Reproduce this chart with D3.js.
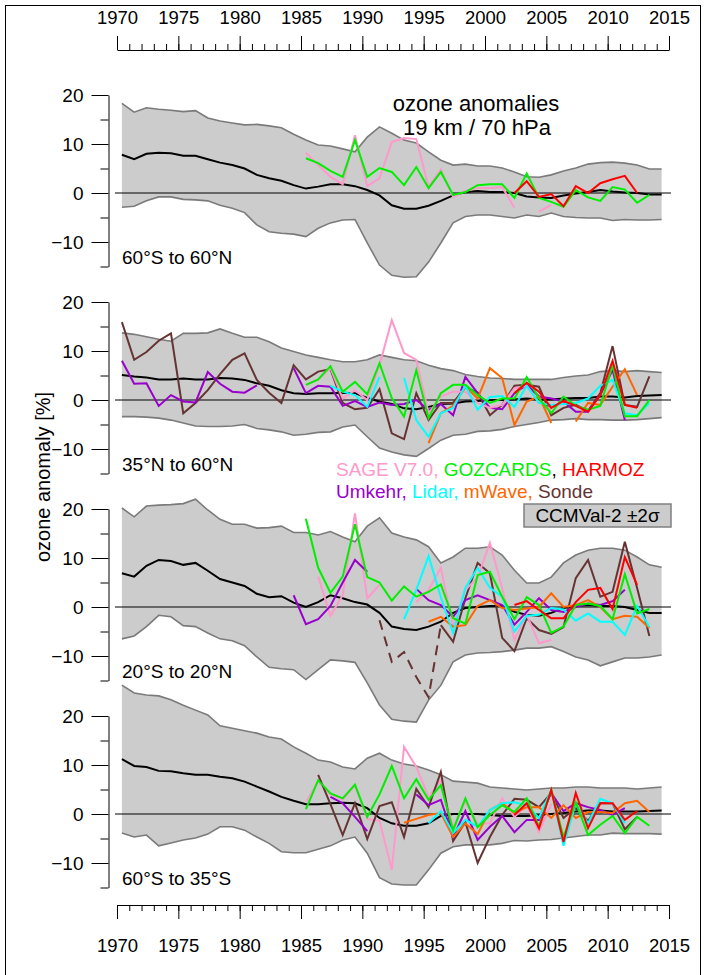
<!DOCTYPE html>
<html>
<head>
<meta charset="utf-8">
<title>ozone anomalies 19 km / 70 hPa</title>
<script src="https://cdn.jsdelivr.net/npm/d3@7"></script>
<style>
  body { margin: 0; background: #fff; }
  svg text { font-family: "Liberation Sans", Arial, Helvetica, sans-serif; fill: #000; }
</style>
</head>
<body>
<script>
// ---- data (% anomaly) ----
var modelYears = d3.range(1970, 2015);

// 60S-60N
var p1Upper = [18.3,16.5,17.4,17.1,16.9,16.6,16.8,15.3,14.7,14.3, 13.9,14.0,13.7,13.3,12.0,10.8,9.8,9.6,9.0,8.4,
               11.4,13.5,12.2,10.8,10.2,8.4,6.7,5.7,5.9,5.5, 5.5,5.1,4.3,3.3,3.2,3.7,4.5,5.1,5.9,6.2, 6.3,6.1,5.7,4.9,4.9];
var p1Lower = [-2.9,-2.7,-1.6,-0.8,-0.8,-1.3,-1.4,-1.6,-2.5,-3.1, -4.0,-6.5,-7.9,-8.2,-8.4,-8.9,-7.2,-6.1,-5.5,-5.4,
               -10.2,-14.7,-16.8,-17.2,-17.1,-14.1,-10.2,-6.1,-4.8,-4.5, -4.5,-4.8,-5.1,-4.5,-4.8,-4.1,-4.8,-5.0,-5.1,-5.1, -5.6,-5.4,-5.5,-5.5,-5.4];
var p1Mean  = [7.8,6.9,8.0,8.2,8.1,7.6,7.6,6.9,6.2,5.7, 5.0,3.7,3.0,2.5,1.6,0.9,1.3,1.8,1.8,1.4,
               0.6,-0.5,-2.5,-3.2,-3.2,-2.6,-1.6,-0.5,0.2,0.4, 0.2,0.2,0,-0.7,-0.9,-1.0,-0.5,-0.1,0.2,0.6, 0.3,0.1,0,-0.3,-0.3];
var p1Sage  = [8.2,5.7,3.3,1.8,11.8,1.4,3.0,10.4,11.2,11.0,1.3,4.8,-0.8,0.4,1.0,1.0,1.2,-3.0,null,-3.8,-2.4];           // from 1985
var p1Goz   = [7.1,6.1,4.5,3.3,10.8,3.3,5.1,4.3,1.6,5.3,1.0,4.3,-0.4,0.2,1.6,1.8,1.8,-1.0,4.0,-1.0,-1.8,-2.8,0.6,-0.9,-1.6,1.2,0.7,-2.0,-0.4]; // from 1985
var p1Harm  = [0,2.4,-0.8,-0.2,-2.7,1.4,0,2.0,2.8,3.5,0];                                                             // from 2002

// 35N-60N
var p2Upper = [13.7,13.4,12.9,12.4,12.0,13.6,13.6,13.7,14.5,13.6, 12.8,12.8,11.9,10.6,9.9,9.2,8.7,8.2,7.8,7.8,
               8.2,9.2,8.7,8.2,8.0,7.1,6.4,6.0,5.2,4.8, 4.5,4.4,4.2,4.2,4.2,4.2,4.6,4.9,5.1,5.8, 6.0,5.8,6.0,5.8,5.6];
var p2Lower = [-3.4,-3.4,-3.5,-3.7,-4.1,-4.7,-5.3,-5.4,-5.4,-5.3, -5.0,-5.8,-6.1,-6.5,-7.2,-7.0,-6.6,-6.5,-5.5,-5.1,
               -7.5,-9.8,-10.6,-11.2,-11.5,-9.9,-8.2,-7.2,-7.0,-6.4, -6.3,-6.0,-5.4,-5.0,-4.6,-4.1,-4.0,-3.8,-4.0,-4.0, -4.1,-4.1,-4.0,-3.8,-3.6];
var p2Mean  = [5.1,4.8,4.6,4.2,4.2,4.4,4.2,4.2,4.5,4.4, 4.1,3.4,2.9,2.0,1.4,1.2,1.4,1.4,1.5,1.4,
               0.4,-0.3,-0.8,-1.7,-1.9,-1.4,-0.8,-0.7,-0.3,-0.2, 0,0,0.1,0.3,0.1,0.1,0.3,0.4,0.4,0.7, 0.7,0.5,0.8,0.9,1.0];
var p2Sonde = [15.9,8.2,9.8,12.1,13.6,-2.7,-0.6,2.0,5.3,8.2, 9.5,4.1,1.5,-0.6,7.1,4.2,5.8,6.3,-0.6,-1.9,
               -1.6,2.2,-6.8,-8.0,1.4,-4.1,-0.6,-0.6,2.6,1.5, -3.1,-1.0,2.9,3.1,2.7,-3.1,-1.6,-1.0,-2.2,1.4, 11.0,-1.0,-1.4,4.8]; // from 1970
var p2Umk   = [8.0,3.3,3.4,-1.2,1.0,-0.3,-0.5,5.7,3.3,1.7, 1.5,3.0,null,null,6.5,1.4,2.9,2.7,-1.2,-0.2,
               -1.4,-0.5,-1.0,-0.8,0,-2.0,-0.8,-3.1,4.7,1.4, -1.6,-1.9,1.4,3.1,0.7,0.3,-0.3,-2.4,-2.4,1.0, 6.1,-4.1];        // from 1970
var p2Lidar = [2.9,1.7,1.0,-1.4,4.7,null,4.5,-4.1,-7.5,-2.7,-1.6,2.9,-2.0,0.6,0.8,-1.4,2.9,-0.6,-1.0,-0.8,-0.6,0.3,2.9,4.1,-2.7,-3.1,-0.6]; // from 1987
var p2Mwave = [-8.8,-2.7,-1.2,2.7,0.3,6.5,4.5,-5.1,-0.3,0.7,-4.7,null,-4.4,-0.6,-1.0,2.7,6.3,1.0];                    // from 1995
var p2Sage  = [3.1,4.1,6.5,0.3,2.0,0,7.1,16.3,9.6,8.2,-2.7,0.7,1.7,1.7,-0.6,-1.6,-1.0,2.4,2.9,-0.5,-2.0];            // from 1985
var p2Goz   = [3.1,4.2,6.9,1.7,3.7,1.2,7.5,0.4,-3.4,6.1,-3.7,1.4,3.1,3.1,1.0,-0.6,0.3,0.3,4.7,0.3,-2.7,0.7,-1.2,-2.0,-1.2,7.1,-3.3,-3.3,0]; // from 1985
var p2Harm  = [1.4,3.5,1.7,-1.6,-0.2,-1.2,-2.4,1.0,8.0,-1.0,-1.6];                                                    // from 2002

// 20S-20N
var p3Upper = [20.2,18.4,20.6,20.8,20.9,21.1,22.0,19.8,17.9,16.9, 16.9,16.1,16.2,16.5,15.2,15.2,14.7,15.4,14.3,13.3,
               16.5,18.2,15.1,14.3,13.7,12.3,9.0,10.2,12.0,12.0, 12.3,10.6,7.5,4.9,4.9,6.1,9.0,10.6,11.6,12.0, 12.0,11.6,10.2,8.6,8.1];
var p3Lower = [-6.5,-5.9,-4.0,-1.7,-2.0,-3.8,-4.0,-5.3,-6.5,-6.9, -7.9,-10.2,-12.3,-12.6,-12.8,-14.8,-12.8,-10.8,-11.0,-11.3,
               -15.5,-20.0,-22.9,-23.3,-23.5,-19.0,-16.0,-11.2,-9.8,-9.4, -9.3,-9.1,-8.8,-8.4,-8.4,-8.1,-9.1,-10.2,-10.8,-12.0, -11.2,-10.4,-10.4,-10.2,-9.8];
var p3Mean  = [6.9,6.2,8.4,9.6,9.4,8.6,9.0,7.4,5.7,5.0, 4.3,2.7,2.0,2.2,0.9,0,1.0,2.4,1.8,1.0,
               0.5,-1.2,-4.0,-4.5,-4.7,-4.0,-3.0,-1.2,-0.2,0, 0.2,0.2,-1.0,-1.6,-1.8,-1.2,-0.2,0.2,0.4,0.2, 0.2,0,-0.6,-1.2,-1.2];
var p3Goz   = [18.0,8.0,2.9,6.2,16.9,6.1,5.0,1.3,4.2,2.1,3.1,4.6,-2.3,-3.4,6.5,7.2,2.1,-2.5,2.0,0.4,-5.3,-4.0,0.4,0.7,0.2,-2.5,6.7,-1.3,-0.4]; // from 1985
var p3Sage  = [6.2,-1.8,2.4,19.1,1.8,4.5,null,null,1.0,3.5,8.0,-4.0,3.5,6.0,13.1,3.9,-6.7,-1.6,-7.4,-6.7];             // from 1986
var p3Umk   = [2.4,-3.5,-2.5,0.2,5.0,9.6,7.2,null,null,null,3.7,1.4,0.4,-2.0,1.4,2.4,1.4,0.4,-3.6,-1.0,1.8,-0.6,-1.0,0,0.7,0.4,1.2,3.5]; // from 1984
var p3Lidar = [-2.5,3.5,10.4,2.0,-5.3,3.9,8.0,3.9,2.1,-5.0,-1.8,-1.6,-0.2,-0.5,-2.8,-1.3,-3.0,-3.0,-5.7,0.2,-4.1];   // from 1993
var p3Mwave = [-3.0,-2.0,-4.0,-3.7,0.2,1.4,-0.2,-0.6,-0.3,0,2.8,0,0.4,1.4,0,-2.5,-1.8,-2.0,-4.3];                     // from 1995
var p3Harm  = [0.4,1.2,-0.6,-2.3,-2.3,1.0,3.5,3.9,-0.4,10.2,4.5];                                                     // from 2002
var p3SondeDash = [-2.7,-11.2,-9.2,-14.3,-18.4,-3.7];                                                                  // from 1991
var p3Sonde = [-3.7,-7.1,1.8,9.0,6.9,-6.3,-9.0,-2.3,-4.7,-5.5,-4.1,5.9,9.6,2.1,3.1,13.3,3.9,-5.9];                   // from 1996

// 60S-35S
var p4Upper = [26.3,24.7,24.3,24.1,23.3,22.2,21.2,20.2,18.0,17.5, 17.0,16.5,15.7,15.3,13.7,12.4,11.0,10.6,9.6,9.2,
               11.4,12.4,11.0,10.2,9.8,9.0,8.0,6.7,6.5,6.3, 5.5,5.3,5.1,4.9,5.1,5.3,5.3,5.5,5.5,5.3, 5.3,5.3,5.1,5.3,5.5];
var p4Lower = [-3.9,-4.7,-4.3,-6.5,-5.9,-5.3,-4.9,-4.1,-2.6,-2.6, -3.3,-4.7,-6.0,-7.7,-7.9,-7.9,-7.2,-6.5,-5.3,-4.7,
               -8.0,-13.0,-14.3,-14.5,-14.5,-11.4,-8.0,-6.7,-6.3,-6.3, -6.3,-6.0,-5.4,-5.5,-5.3,-5.2,-4.9,-4.6,-4.3,-4.3, -3.9,-4.0,-4.0,-4.0,-4.1];
var p4Mean  = [11.2,9.8,9.6,8.8,8.7,8.3,8.0,8.0,7.6,7.3, 6.6,5.6,4.6,3.5,2.7,2.0,2.0,2.2,2.3,2.2,
               1.2,-0.8,-1.9,-2.4,-2.4,-1.9,-0.4,0,0,0, -0.2,-0.4,-0.4,-0.4,-0.2,0,0.2,0.5,0.7,0.7, 0.5,0.5,0.5,0.6,0.7];
var p4Goz   = [1.0,6.9,4.2,3.2,6.0,-0.6,4.0,9.8,3.2,7.1,2.9,5.9,-3.3,3.2,-2.7,-0.2,1.8,0.4,3.2,-2.6,4.9,-4.7,2.4,-4.3,-2.2,-0.4,-3.9,-0.6,-2.4]; // from 1985
var p4Sage  = [2.5,6.6,4.0,3.0,5.8,-1.0,-1.4,-11.4,13.7,9.6,3.5,6.9,-2.8,2.5,-2.0,-1.9,3.2,-0.6,1.8,-3.7,2.0];         // from 1985
var p4Sonde = [8.0,2.0,-4.3,2.2,-5.1,1.6,2.4,-4.7,5.1,1.4,8.6,-5.5,-1.6,-10.0,-4.7,-0.2,3.1,2.9,1.4,4.3,-0.8,1.2,-1.4,2.2,2.2,-3.1,-0.6]; // from 1986
var p4Umk   = [3.5,2.2,-0.6,-3.5,null,null,null,4.0,1.8,2.9,-4.7,0.6,-5.3,-2.6,-0.4,-3.7,-1.2,-1.2,4.3,0.6,2.2,1.4,0.8,-0.2,1.2]; // from 1987
var p4Lidar = [-1.9,0.6,-3.9,-1.2,-2.6,0.8,2.2,2.4,1.8,-0.8,4.9,-6.5,2.2,-1.9,3.1,2.2,-1.9];                          // from 1995
var p4Mwave = [-1.8,-1.0,-0.2,0.2,-4.7,-1.9,-4.1,0.8,2.2,0.2,1.4,1.4,-0.8,1.8,-0.8,0.4,0.4,0.2,2.2,2.7,0.4];          // from 1993
var p4Harm  = [-0.2,2.2,-2.9,4.9,-5.7,4.3,-2.9,2.2,2.2,-1.2,0.6];                                                     // from 2002

var yearTicks = d3.range(1970, 2016);
var yMajor = [20, 10, 0, -10];
var yMinor = [15, 5, -5, -15];

var colors = {
    sage: "#ff99cc", goz: "#00ee00", harm: "#ff0000", umk: "#9900cc",
    lidar: "#00ffff", mwave: "#ff6600", sonde: "#663333"
};

// build panel table from the arrays above
var panels = [
    {label: "60°S to 60°N", zero: 193, upper: p1Upper, lower: p1Lower, mean: p1Mean,
     obs: [{v: p1Sage, s: 1985, c: "sage"}, {v: p1Goz, s: 1985, c: "goz"}, {v: p1Harm, s: 2002, c: "harm"}]},
    {label: "35°N to 60°N", zero: 400, upper: p2Upper, lower: p2Lower, mean: p2Mean,
     obs: [{v: p2Sonde, s: 1970, c: "sonde"}, {v: p2Umk, s: 1970, c: "umk"}, {v: p2Sage, s: 1985, c: "sage"},
           {v: p2Mwave, s: 1995, c: "mwave"}, {v: p2Lidar, s: 1987, c: "lidar"},
           {v: p2Goz, s: 1985, c: "goz"}, {v: p2Harm, s: 2002, c: "harm"}]},
    {label: "20°S to 20°N", zero: 607, upper: p3Upper, lower: p3Lower, mean: p3Mean,
     obs: [{v: p3SondeDash, s: 1991, c: "sonde", dash: true}, {v: p3Sonde, s: 1996, c: "sonde"},
           {v: p3Sage, s: 1986, c: "sage"}, {v: p3Umk, s: 1984, c: "umk"}, {v: p3Mwave, s: 1995, c: "mwave"},
           {v: p3Lidar, s: 1993, c: "lidar"}, {v: p3Goz, s: 1985, c: "goz"}, {v: p3Harm, s: 2002, c: "harm"}]},
    {label: "60°S to 35°S", zero: 814, upper: p4Upper, lower: p4Lower, mean: p4Mean,
     obs: [{v: p4Sage, s: 1985, c: "sage"}, {v: p4Sonde, s: 1986, c: "sonde"}, {v: p4Umk, s: 1987, c: "umk"},
           {v: p4Mwave, s: 1993, c: "mwave"}, {v: p4Lidar, s: 1995, c: "lidar"},
           {v: p4Goz, s: 1985, c: "goz"}, {v: p4Harm, s: 2002, c: "harm"}]}
];

var W = 706, H = 975;
var pxPerUnit = 4.9;

var svg = d3.select("body").append("svg")
    .attr("width", W)
    .attr("height", H);

// outer frame
svg.append("rect")
    .attr("x", 5.5).attr("y", 5.5)
    .attr("width", 695).attr("height", 980)
    .attr("fill", "none").attr("stroke", "#000").attr("stroke-width", 1);

var x = d3.scaleLinear().domain([1970, 2015]).range([117, 669]);
function xm(yr) { return x(yr + 0.4); }

panels.forEach(function(p) {
    var y = d3.scaleLinear().domain([-15, 20]).range([p.zero + 15 * pxPerUnit, p.zero - 20 * pxPerUnit]);
    var g = svg.append("g");

    var band = modelYears.map(function(yr, i) {
        return {yr: yr, lo: p.lower[i], hi: p.upper[i], m: p.mean[i]};
    });

    // CCMVal-2 +-2 sigma envelope
    g.append("path")
        .datum(band)
        .attr("fill", "#cccccc")
        .attr("d", d3.area()
            .x(function(d) { return xm(d.yr); })
            .y0(function(d) { return y(d.lo); })
            .y1(function(d) { return y(d.hi); }));
    ["lo", "hi"].forEach(function(k) {
        g.append("path")
            .datum(band)
            .attr("fill", "none")
            .attr("stroke", "#7a7a7a")
            .attr("stroke-width", 1.6)
            .attr("d", d3.line()
                .x(function(d) { return xm(d.yr); })
                .y(function(d) { return y(d[k]); }));
    });

    // zero line
    g.append("line")
        .attr("x1", 115).attr("x2", 671)
        .attr("y1", y(0)).attr("y2", y(0))
        .attr("stroke", "#000").attr("stroke-width", 1);

    // model mean
    g.append("path")
        .datum(band)
        .attr("fill", "none")
        .attr("stroke", "#000")
        .attr("stroke-width", 2)
        .attr("d", d3.line()
            .x(function(d) { return xm(d.yr); })
            .y(function(d) { return y(d.m); }));

    // observations
    var obsLine = d3.line()
        .defined(function(d) { return d.v !== null; })
        .x(function(d) { return xm(d.yr); })
        .y(function(d) { return y(d.v); });
    p.obs.forEach(function(o) {
        var pts = o.v.map(function(v, i) { return {yr: o.s + i, v: v}; });
        g.append("path")
            .datum(pts)
            .attr("fill", "none")
            .attr("stroke", colors[o.c])
            .attr("stroke-width", 2)
            .attr("stroke-dasharray", o.dash ? "10,7" : null)
            .attr("d", obsLine);
    });

    // y axis: major + minor ticks
    var axMajor = d3.axisLeft(y).tickValues(yMajor).tickSize(17).tickSizeOuter(0).tickPadding(8)
        .tickFormat(d3.format("d"));
    var ga = g.append("g").attr("transform", "translate(108.5,0)").call(axMajor);
    ga.selectAll("text").style("font-size", "19px").attr("fill", "#000");
    var axMinor = d3.axisLeft(y).tickValues(yMinor).tickSize(8).tickSizeOuter(0).tickFormat("");
    g.append("g").attr("transform", "translate(108.5,0)").call(axMinor).select(".domain").remove();

    g.append("text")
        .attr("x", 122).attr("y", p.zero + 71)
        .style("font-size", "19px")
        .text(p.label);
});

// time rulers (top and bottom)
function ruler(yPos, top) {
    var axFn = top ? d3.axisTop : d3.axisBottom;
    var minor = axFn(x).tickValues(yearTicks).tickSize(6).tickSizeOuter(0).tickFormat("");
    svg.append("g").attr("transform", "translate(0," + yPos + ")").call(minor);
    var major = axFn(x).tickValues(yearTicks.filter(function(d) { return d % 5 === 0; }))
        .tickSize(14).tickSizeOuter(0).tickPadding(top ? 12 : 20).tickFormat(d3.format("d"));
    var gm = svg.append("g").attr("transform", "translate(0," + yPos + ")").call(major);
    gm.select(".domain").remove();
    gm.selectAll("text").style("font-size", "18.5px").attr("fill", "#000");
}
ruler(50, true);
ruler(905, false);

// y axis title
svg.append("text")
    .attr("transform", "translate(50,477) rotate(-90)")
    .attr("text-anchor", "middle")
    .style("font-size", "20px")
    .text("ozone anomaly [%]");

// title
svg.append("text").attr("x", 476).attr("y", 111).attr("text-anchor", "middle")
    .style("font-size", "22px").text("ozone anomalies");
svg.append("text").attr("x", 477).attr("y", 135).attr("text-anchor", "middle")
    .style("font-size", "22px").text("19 km / 70 hPa");

// legend
var legend1 = [["SAGE V7.0, ", colors.sage], ["GOZCARDS", colors.goz], [", ", "#000"], ["HARMOZ", colors.harm]];
var legend2 = [["Umkehr, ", colors.umk], ["Lidar, ", colors.lidar], ["mWave, ", colors.mwave], ["Sonde", colors.sonde]];
[[legend1, 476], [legend2, 498]].forEach(function(row) {
    var t = svg.append("text").attr("x", 336).attr("y", row[1]).style("font-size", "19px")
        .attr("xml:space", "preserve");
    row[0].forEach(function(s) {
        t.append("tspan").attr("fill", s[1]).style("fill", s[1]).text(s[0]);
    });
});
svg.append("rect")
    .attr("x", 524).attr("y", 504).attr("width", 147).attr("height", 23)
    .attr("fill", "#cccccc").attr("stroke", "#808080").attr("stroke-width", 1.5);
svg.append("text").attr("x", 597.5).attr("y", 522).attr("text-anchor", "middle")
    .style("font-size", "19px").text("CCMVal-2 ±2σ");
</script>
</body>
</html>
